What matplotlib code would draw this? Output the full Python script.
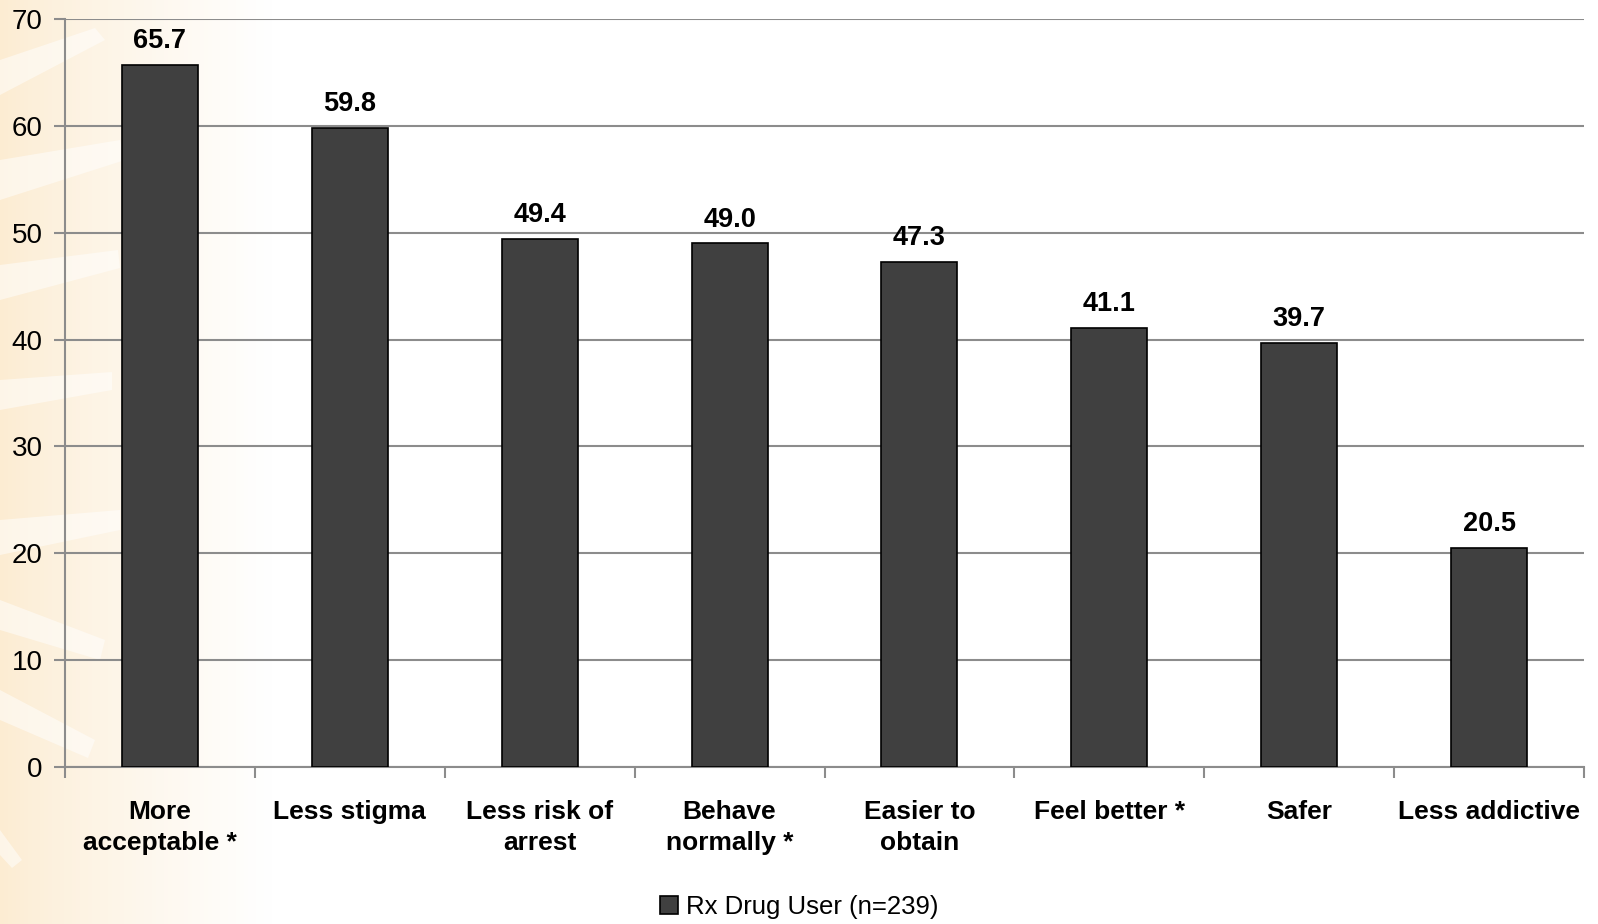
import numpy as np
import matplotlib
matplotlib.use("Agg")
import matplotlib.pyplot as plt
from matplotlib.patches import Polygon

categories = ["More\nacceptable *", "Less stigma", "Less risk of\narrest", "Behave\nnormally *",
              "Easier to\nobtain", "Feel better *", "Safer", "Less addictive"]
values = [65.7, 59.8, 49.4, 49.0, 47.3, 41.1, 39.7, 20.5]
series_name = "Rx Drug User (n=239)"
yticks = [0, 10, 20, 30, 40, 50, 60, 70]

plt.rcParams['font.family'] = ['Liberation Sans', 'DejaVu Sans']

W, H = 1598, 924
fig = plt.figure(figsize=(W / 100, H / 100), dpi=100)

# background gradient (light orange on left fading to white)
bg = fig.add_axes([0, 0, 1, 1], zorder=-10)
bg.set_xlim(0, W)
bg.set_ylim(H, 0)
bg.axis('off')
xs = np.linspace(0, W, 400)
t = np.clip(xs / 270.0, 0, 1) ** 0.8
c0 = np.array([252, 236, 210]) / 255.0
c1 = np.array([255, 255, 255]) / 255.0
grad = (c0[None, :] * (1 - t[:, None]) + c1[None, :] * t[:, None])[None, :, :]
grad = np.repeat(grad, 2, axis=0)
bg.imshow(grad, extent=[0, W, H, 0], aspect='auto')
# faint white rays
rays = [
    [(0, 60), (95, 28), (105, 40), (0, 95)],
    [(0, 160), (120, 140), (125, 160), (0, 200)],
    [(0, 265), (118, 250), (120, 268), (0, 300)],
    [(0, 380), (112, 372), (112, 390), (0, 410)],
    [(0, 520), (120, 510), (120, 530), (0, 555)],
    [(0, 600), (105, 640), (100, 660), (0, 630)],
    [(0, 690), (95, 740), (88, 758), (0, 720)],
    [(0, 830), (22, 860), (12, 868), (0, 855)],
]
for r in rays:
    bg.add_patch(Polygon(r, closed=True, facecolor='white', edgecolor='none', alpha=0.5))

ax = fig.add_axes([65 / W, 1 - 767 / H, (1584 - 65) / W, (767 - 19) / H])
ax.patch.set_alpha(0)
x = np.arange(len(categories))
bars = ax.bar(x, values, width=0.4, color='#404040', edgecolor='black', linewidth=1.2,
              label=series_name, zorder=3)
for xi, v in zip(x, values):
    ax.text(xi, v + 1.0, f"{v:.1f}", ha='center', va='bottom', fontsize=19.5,
            fontweight='bold', color='black', zorder=4)

ax.set_xlim(-0.5, len(categories) - 0.5)
ax.set_ylim(0, 70)
ax.set_yticks(yticks)
ax.set_yticklabels([str(v) for v in yticks], fontsize=20)
ax.yaxis.grid(True, color='#8c8c8c', linewidth=1.5, zorder=0)
ax.set_axisbelow(True)

ax.set_xticks(x)
ax.set_xticklabels(categories, fontsize=19, fontweight='bold', linespacing=1.35)
ax.tick_params(axis='x', which='major', length=0, pad=24)
ax.set_xticks(np.arange(-0.5, len(categories), 1.0), minor=True)
ax.tick_params(axis='x', which='minor', length=8, width=1.5, color='#8c8c8c', direction='out')
ax.tick_params(axis='y', length=8, width=1.5, color='#8c8c8c', direction='out', pad=8)

for s in ['top', 'right']:
    ax.spines[s].set_visible(False)
for s in ['left', 'bottom']:
    ax.spines[s].set_color('#8c8c8c')
    ax.spines[s].set_linewidth(1.5)

leg = fig.legend(handles=[bars], labels=[series_name], loc='center',
                 bbox_to_anchor=(0.5, 1 - 907 / H), frameon=False, fontsize=18.5,
                 handlelength=0.7, handleheight=0.7, handletextpad=0.3)

fig.savefig("out.png", dpi=100)
